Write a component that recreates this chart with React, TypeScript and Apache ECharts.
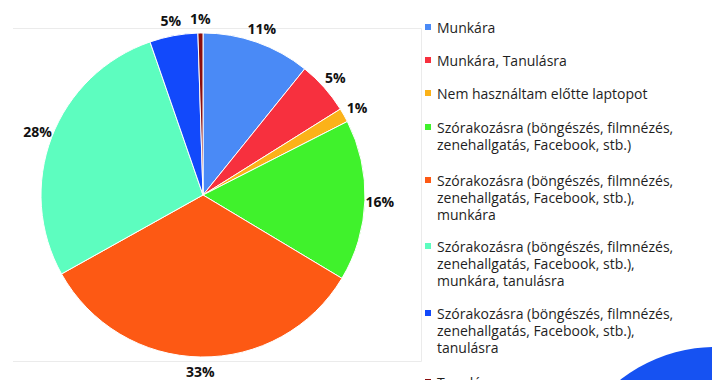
import React, { useEffect, useRef } from "react";
import * as echarts from "echarts";

const categories = [
  "Munkára",
  "Munkára, Tanulásra",
  "Nem használtam előtte laptopot",
  "Szórakozásra (böngészés, filmnézés, zenehallgatás, Facebook, stb.)",
  "Szórakozásra (böngészés, filmnézés, zenehallgatás, Facebook, stb.), munkára",
  "Szórakozásra (böngészés, filmnézés, zenehallgatás, Facebook, stb.), munkára, tanulásra",
  "Szórakozásra (böngészés, filmnézés, zenehallgatás, Facebook, stb.), tanulásra",
  "Tanulásra",
];
const legendLines = [
  ["Munkára"],
  ["Munkára, Tanulásra"],
  ["Nem használtam előtte laptopot"],
  ["Szórakozásra (böngészés, filmnézés,", "zenehallgatás, Facebook, stb.)"],
  ["Szórakozásra (böngészés, filmnézés,", "zenehallgatás, Facebook, stb.),", "munkára"],
  ["Szórakozásra (böngészés, filmnézés,", "zenehallgatás, Facebook, stb.),", "munkára, tanulásra"],
  ["Szórakozásra (böngészés, filmnézés,", "zenehallgatás, Facebook, stb.),", "tanulásra"],
  ["Tanulásra"],
];
const shares = [10.8, 5.3, 1.4, 16.1, 33.3, 27.8, 4.8, 0.5];
const colors = ["#4a8af6", "#f7303e", "#fbb219", "#40f22c", "#fd5914", "#5dfdbf", "#1249fb", "#8a0e0e"];
const legendFirstLineY = [27, 60, 93, 127, 180, 246, 313, 382];

const FONT = "'Open Sans', sans-serif";
const LINE_H = 17;

export default function App() {
  const ref = useRef<HTMLDivElement>(null);
  useEffect(() => {
    if (!ref.current) return;
    const chart = echarts.init(ref.current, null, { renderer: "svg" });
    const data = categories.map((name, i) => ({
      name,
      value: shares[i],
      itemStyle: { color: colors[i] },
    }));
    const labelData = categories.map((name, i) => ({ name, value: shares[i] }));
    const legends = categories.map((name, i) => {
      const n = legendLines[i].length;
      return {
        show: true,
        orient: "vertical" as const,
        left: 423,
        top: legendFirstLineY[i] - ((2 * n - 1) * LINE_H) / 2,
        padding: 0,
        itemGap: 0,
        itemWidth: 8,
        itemHeight: 8,
        icon: "rect",
        selectedMode: false,
        data: [name],
        formatter: () => "\n".repeat(n - 1) + legendLines[i].join("\n"),
        textStyle: {
          fontFamily: FONT,
          fontSize: 14,
          lineHeight: LINE_H,
          color: "#1e1e1e",
        },
      };
    });
    chart.setOption({
      animation: false,
      backgroundColor: "#ffffff",
      legend: legends,
      graphic: [
        {
          type: "polyline",
          shape: {
            points: [
              [13, 28.5],
              [421.5, 28.5],
              [421.5, 361.5],
              [13, 361.5],
            ],
          },
          style: { fill: "none", stroke: "#ebebeb", lineWidth: 1 },
          z: -10,
          silent: true,
        },
        {
          type: "circle",
          shape: { cx: 715, cy: 500, r: 153 },
          style: { fill: "#1652f2" },
          silent: true,
        },
      ],
      series: [
        {
          type: "pie",
          center: [203, 195],
          radius: 162,
          startAngle: 90,
          clockwise: true,
          avoidLabelOverlap: false,
          label: { show: false },
          labelLine: { show: false },
          itemStyle: { borderColor: "#ffffff", borderWidth: 1 },
          emphasis: { disabled: true },
          data,
        },
        {
          type: "pie",
          center: [203, 195],
          radius: [162, 186],
          startAngle: 90,
          clockwise: true,
          silent: true,
          avoidLabelOverlap: false,
          itemStyle: { color: "rgba(0,0,0,0)" },
          emphasis: { disabled: true },
          label: {
            show: true,
            position: "inside",
            formatter: (p: any) => Math.round(p.value) + "%",
            fontFamily: FONT,
            fontWeight: "bold",
            fontSize: 14,
            color: "#111111",
          },
          labelLine: { show: false },
          data: labelData,
        },
      ],
    });
    return () => chart.dispose();
  }, []);
  return (
    <div
      ref={ref}
      style={{ position: "fixed", left: 0, top: 0, width: 712, height: 380 }}
    />
  );
}
